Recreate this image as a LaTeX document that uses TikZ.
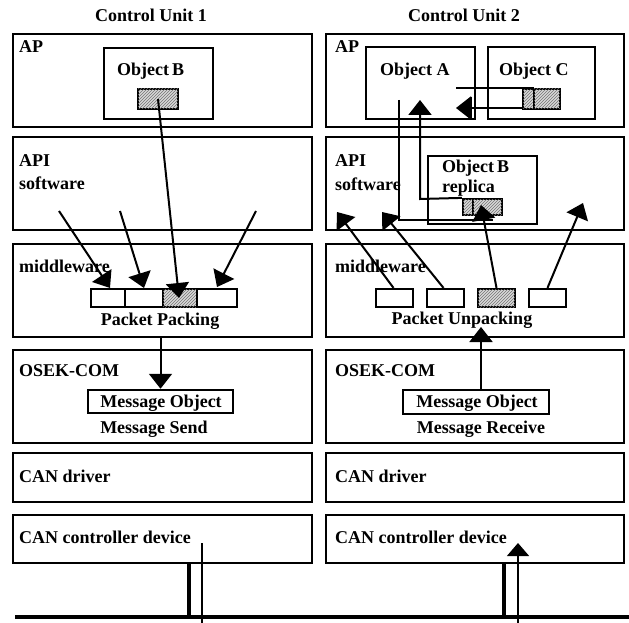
\documentclass[tikz,border=0pt]{standalone}
\usepackage{fontspec}
\setmainfont{Liberation Serif}
\usetikzlibrary{arrows.meta,fit,patterns}

\begin{document}
\begin{tikzpicture}[x=1pt,y=-1pt,
  tier/.style={draw, line width=2.5pt, inner sep=0pt},
  objbox/.style={draw, line width=2.5pt, inner sep=0pt},
  slot/.style={draw, line width=2.2pt, inner sep=0pt},
  shaded/.style={slot, fill=black!15,
    postaction={pattern=north east lines, pattern color=black!55}},
  lbl/.style={inner sep=0pt, font=\bfseries\fontsize{18}{20}\selectfont},
  flow/.style={line width=2pt, -{Triangle[length=15pt,width=23pt]}},
  wire/.style={line width=2pt},
  thinwire/.style={line width=1.3pt},
  thickwire/.style={line width=4pt},
]
\fill[white] (0,0) rectangle (629,623);
\useasboundingbox (0,0) rectangle (629,623);

% ---------- column titles
\node[lbl, anchor=base] (titleL) at (151,22) {Control Unit 1};
\node[lbl, anchor=base] (titleR) at (464,22) {Control Unit 2};

% ---------- Control Unit 1 layers
\node[tier, fit={(13,34) (312,127)}]  (apL)   {};
\node[tier, fit={(13,137) (312,230)}] (apiL)  {};
\node[tier, fit={(13,244) (312,337)}] (mwL)   {};
\node[tier, fit={(13,350) (312,443)}] (osekL) {};
\node[tier, fit={(13,453) (312,502)}] (drvL)  {};
\node[tier, fit={(13,515) (312,563)}] (ctlL)  {};

\node[lbl, anchor=base west] (tApL)   at (19,53)  {AP};
\node[lbl, anchor=base west] (tApiL)  at (19,166) {API};
\node[lbl, anchor=base west] (tSwL)   at (19,189) {software};
\node[lbl, anchor=base west] (tMwL)   at (19,272) {middleware};
\node[lbl, anchor=base west] (tOsekL) at (19,376) {OSEK-COM};
\node[lbl, anchor=base west] (tDrvL)  at (19,482) {CAN driver};
\node[lbl, anchor=base west] (tCtlL)  at (19,543) {CAN controller device};

% Object B in the AP layer
\node[objbox, fit={(104,48) (213,119)}] (objB) {};
\node[lbl, anchor=base west] (tObjB) at (117,76) {Object\,B};
\node[shaded, fit={(138,89) (178,109)}] (datB) {};

% packet slots
\node[slot,   fit={(91,289) (125,307)}]  (pk1) {};
\node[slot,   fit={(125,289) (163,307)}] (pk2) {};
\node[shaded, fit={(163,289) (197,307)}] (pk3) {};
\node[slot,   fit={(197,289) (237,307)}] (pk4) {};
\node[lbl, anchor=base] (tPack) at (160,325) {Packet Packing};

% message object (send side)
\node[objbox, fit={(88,390) (233,413)}] (msgL) {};
\node[lbl, anchor=base] (tMsgL)  at (161,407) {Message Object};
\node[lbl, anchor=base] (tSend)  at (154,433) {Message Send};

% ---------- Control Unit 2 layers
\node[tier, fit={(326,34) (624,127)}]  (apR)   {};
\node[tier, fit={(326,137) (624,230)}] (apiR)  {};
\node[tier, fit={(326,244) (624,337)}] (mwR)   {};
\node[tier, fit={(326,350) (624,443)}] (osekR) {};
\node[tier, fit={(326,453) (624,502)}] (drvR)  {};
\node[tier, fit={(326,515) (624,563)}] (ctlR)  {};

\node[lbl, anchor=base west] (tApR)   at (335,53)  {AP};
\node[lbl, anchor=base west] (tApiR)  at (335,166) {API};
\node[lbl, anchor=base west] (tSwR)   at (335,190) {software};
\node[lbl, anchor=base west] (tMwR)   at (335,272) {middleware};
\node[lbl, anchor=base west] (tOsekR) at (335,376) {OSEK-COM};
\node[lbl, anchor=base west] (tDrvR)  at (335,482) {CAN driver};
\node[lbl, anchor=base west] (tCtlR)  at (335,543) {CAN controller device};

% Objects A and C
\node[objbox, fit={(366,47) (475,119)}] (objA) {};
\node[lbl, anchor=base west] (tObjA) at (380,76) {Object A};
\node[objbox, fit={(488,47) (595,119)}] (objC) {};
\node[lbl, anchor=base west] (tObjC) at (499,76) {Object C};
\node[shaded, fit={(523,89) (534,109)}] (datCa) {};
\node[shaded, fit={(534,89) (560,109)}] (datCb) {};

% Object B replica in the API layer
\node[objbox, fit={(428,156) (537,224)}] (objBr) {};
\node[lbl, anchor=base west] (tObjBr)  at (442,172) {Object\,B};
\node[lbl, anchor=base west] (tRepl)   at (442,192) {replica};
\node[shaded, fit={(463,199) (473,215)}] (datRa) {};
\node[shaded, fit={(473,199) (502,215)}] (datRb) {};

% packet slots (receive side)
\node[slot,   fit={(376,289) (413,307)}] (uk1) {};
\node[slot,   fit={(427,289) (464,307)}] (uk2) {};
\node[shaded, fit={(478,289) (515,307)}] (uk3) {};
\node[slot,   fit={(529,289) (566,307)}] (uk4) {};
\node[lbl, anchor=base] (tUnpack) at (462,324) {Packet Unpacking};

% message object (receive side)
\node[objbox, fit={(403,390) (549,414)}] (msgR) {};
\node[lbl, anchor=base] (tMsgR)  at (477,407) {Message Object};
\node[lbl, anchor=base] (tRecv)  at (481,433) {Message Receive};

% ---------- free ends of the connectors
\coordinate (inL1) at (59,211);
\coordinate (inL2) at (120,211);
\coordinate (inL4) at (256,211);
\coordinate (hdL1) at (110,288);
\coordinate (hdL2) at (144,288);
\coordinate (hdL3) at (179,298);
\coordinate (hdL4) at (217,287);

\coordinate (hdR1) at (337,212);
\coordinate (hdR2) at (382,212);
\coordinate (hdR3) at (481,205);
\coordinate (hdR4) at (583,203);

\coordinate (aTop)   at (399,100);
\coordinate (aCorner) at (399,220);
\coordinate (aEnd)   at (493,220);
\coordinate (rCorner) at (420,199);
\coordinate (rTip)   at (420,100);
\coordinate (cLineW) at (456,88);
\coordinate (cLineE) at (534,88);
\coordinate (cRetS)  at (523,108);
\coordinate (cRetT)  at (456,108);
\coordinate (tickT)  at (471,97);
\coordinate (tickB)  at (471,120);

\coordinate (upS) at (481,390);
\coordinate (upT) at (481,327);

% ---------- Control Unit 1 data flow
\draw[flow] (inL1) -- (hdL1);
\draw[flow] (inL2) -- (hdL2);
\draw[flow] (datB.center) -- (hdL3);
\draw[flow] (inL4) -- (hdL4);
\draw[flow] (msgL.north |- mwL.south) -- (msgL.north);

% ---------- Control Unit 2 data flow
\draw[flow] (uk1.north) ++(-1,0) -- (hdR1);
\draw[flow] (uk2.north) ++(-2,0) -- (hdR2);
\draw[flow] (uk3.north) -- (hdR3);
\draw[flow] (uk4.north) -- (hdR4);
\draw[flow] (upS) -- (upT);

\draw[wire] (aTop) -- (aCorner) -- (aEnd);
\draw[flow] (datRa.north west) -- (rCorner) -- (rTip);
\draw[wire] (cLineW) -- (cLineE);
\draw[flow] (cRetS) -- (cRetT);
\draw[wire] (tickT) -- (tickB);

% ---------- CAN bus and the taps
\coordinate (busW) at (15,617);
\coordinate (busE) at (629,617);
\coordinate (tapLt) at (189,562);
\coordinate (tapLb) at (189,617);
\coordinate (txT)   at (202,543);
\coordinate (txB)   at (202,623);
\coordinate (tapRt) at (504,562);
\coordinate (tapRb) at (504,617);
\coordinate (rxB)   at (518,623);
\coordinate (rxT)   at (518,543);

\draw[thickwire] (busW) -- (busE);
\draw[thickwire] (tapLt) -- (tapLb);
\draw[thickwire] (tapRt) -- (tapRb);
\draw[thinwire] (txT) -- (txB);
\draw[thinwire, -{Triangle[length=13pt,width=22pt]}] (rxB) -- (rxT);
\end{tikzpicture}
\end{document}
